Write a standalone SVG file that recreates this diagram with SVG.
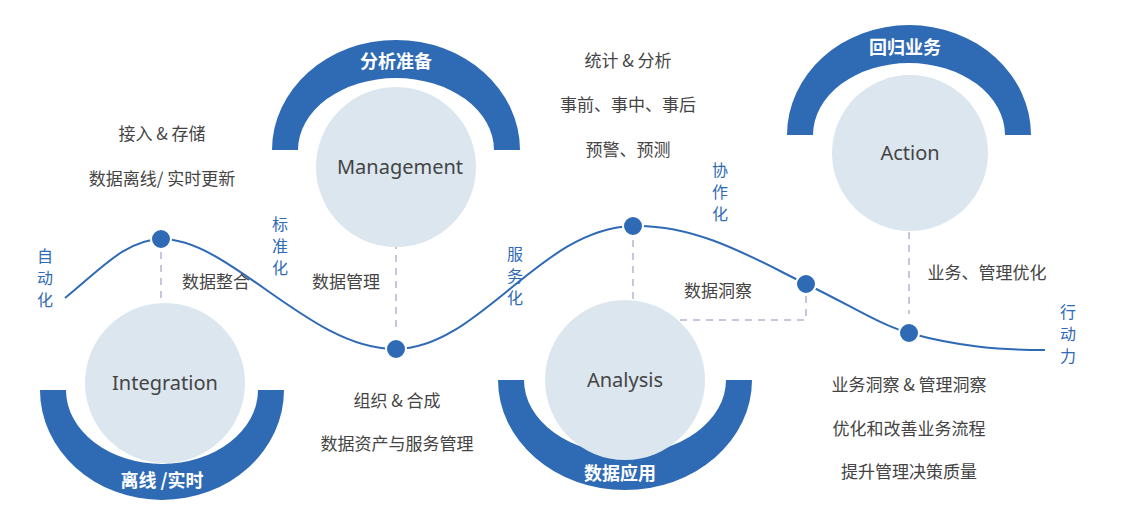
<svg xmlns="http://www.w3.org/2000/svg" width="1126" height="511" viewBox="0 0 1126 511">
<style>
.t{font-family:"Noto Sans CJK SC","Noto Sans",sans-serif;font-size:17px;fill:#444;text-anchor:middle}
.v{font-family:"Noto Sans CJK SC","Noto Sans",sans-serif;font-size:16px;fill:#2f6ab5;text-anchor:middle}
.w{font-family:"Noto Sans CJK SC","Noto Sans",sans-serif;font-size:18px;fill:#fff;text-anchor:middle;font-weight:bold}
.c{font-family:"Noto Sans","Open Sans",sans-serif;font-size:20px;fill:#444;text-anchor:middle}
.disc{fill:#dce6ef}
.ring{fill:#2f6ab5}
.dot{fill:#2f6ab5;stroke:#fff;stroke-width:2}
.dash{stroke:#c5c8dc;stroke-width:2;stroke-dasharray:7 6;fill:none}
</style>
<rect width="1126" height="511" fill="#fff"/>
<g id="connectors">
<path d="M65,298 C100,270 125,240 161,239 C230,238 310,350 396,349 C480,348 540,228 633,226 C700,224 760,262 806,284 C850,305 880,325 909,333 C960,347 1000,350 1045,350" fill="none" stroke="#2f6ab5" stroke-width="2"/>
<path class="dash" d="M161,252 V300"/>
<path class="dash" d="M396,242 V332"/>
<path class="dash" d="M633,240 V300"/>
<path class="dash" d="M806,296 V320 H677"/>
<path class="dash" d="M909,232 V314"/>
<circle class="dot" cx="161" cy="239" r="10"/>
<circle class="dot" cx="396" cy="349" r="10"/>
<circle class="dot" cx="633" cy="226" r="10"/>
<circle class="dot" cx="806" cy="284" r="10"/>
<circle class="dot" cx="909" cy="333" r="10"/>
</g>
<g id="integration">
<path class="ring" d="M40,390 A122,110 0 0 0 284,390 H258 A96,74 0 0 1 66,390 Z"/>
<circle class="disc" cx="165" cy="383" r="80"/>
<text class="c" x="165" y="390">Integration</text>
<text class="w" x="162" y="487">离线 /实时</text>
</g>
<g id="management">
<path class="ring" d="M272,150 A124,110 0 0 1 520,150 H494 A98,72 0 0 0 298,150 Z"/>
<circle class="disc" cx="396" cy="167" r="80"/>
<text class="c" x="400" y="174">Management</text>
<text class="w" x="396" y="68">分析准备</text>
</g>
<g id="analysis">
<path class="ring" d="M498,380 A127,110 0 0 0 752,380 H726 A101,74 0 0 1 524,380 Z"/>
<circle class="disc" cx="625" cy="380" r="80"/>
<text class="c" x="625" y="387">Analysis</text>
<text class="w" x="620" y="480">数据应用</text>
</g>
<g id="action">
<path class="ring" d="M787,135 A122,110 0 0 1 1031,135 H1005 A96,72 0 0 0 813,135 Z"/>
<circle class="disc" cx="910" cy="153" r="78"/>
<text class="c" x="910" y="160">Action</text>
<text class="w" x="905" y="54">回归业务</text>
</g>
<g id="labels">
<text class="t" x="162" y="140">接入 &amp; 存储</text>
<text class="t" x="162" y="185">数据离线/ 实时更新</text>
<text class="t" x="216" y="288">数据整合</text>
<text class="t" x="346" y="288">数据管理</text>
<text class="t" x="397" y="407">组织 &amp; 合成</text>
<text class="t" x="397" y="450">数据资产与服务管理</text>
<text class="t" x="628" y="67">统计 &amp; 分析</text>
<text class="t" x="628" y="111">事前、事中、事后</text>
<text class="t" x="628" y="156">预警、预测</text>
<text class="t" x="718" y="297">数据洞察</text>
<text class="t" x="987" y="279">业务、管理优化</text>
<text class="t" x="909" y="391">业务洞察 &amp; 管理洞察</text>
<text class="t" x="909" y="435">优化和改善业务流程</text>
<text class="t" x="909" y="478">提升管理决策质量</text>
<text class="v" x="45" y="262">自</text><text class="v" x="45" y="284">动</text><text class="v" x="45" y="306">化</text>
<text class="v" x="280" y="230">标</text><text class="v" x="280" y="252">准</text><text class="v" x="280" y="274">化</text>
<text class="v" x="515" y="260">服</text><text class="v" x="515" y="282">务</text><text class="v" x="515" y="304">化</text>
<text class="v" x="720" y="176">协</text><text class="v" x="720" y="198">作</text><text class="v" x="720" y="220">化</text>
<text class="v" x="1068" y="318">行</text><text class="v" x="1068" y="340">动</text><text class="v" x="1068" y="362">力</text>
</g>
</svg>
